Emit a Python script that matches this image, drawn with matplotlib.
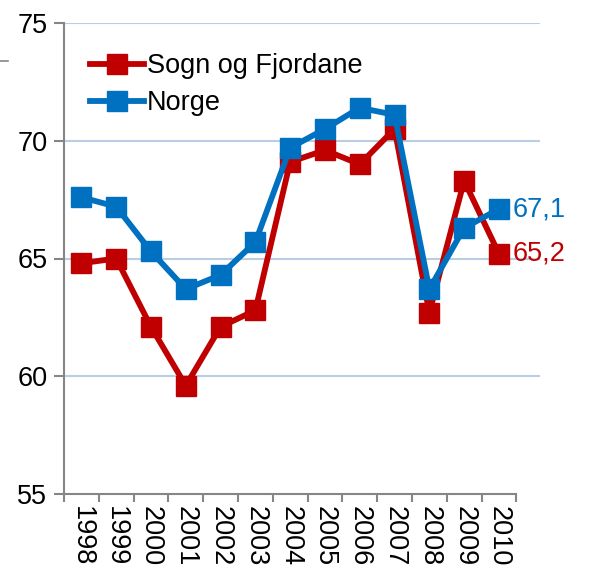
import matplotlib.pyplot as plt
from matplotlib.lines import Line2D
from matplotlib.ticker import FixedLocator

plt.rcParams['font.family'] = ['Liberation Sans', 'DejaVu Sans']

years = ['1998', '1999', '2000', '2001', '2002', '2003', '2004',
         '2005', '2006', '2007', '2008', '2009', '2010']
sogn = [64.8, 65.0, 62.1, 59.6, 62.1, 62.8, 69.1, 69.6, 69.0, 70.5, 62.7, 68.3, 65.2]
norge = [67.6, 67.2, 65.3, 63.7, 64.3, 65.7, 69.7, 70.5, 71.4, 71.1, 63.7, 66.3, 67.1]

red = '#C00000'
blue = '#0070C0'
axis_grey = '#868686'
fs = 19.5

fig = plt.figure(figsize=(5.89, 5.68), dpi=100)
ax = fig.add_axes([64 / 589, 1 - 494 / 568, 476 / 589, 471 / 568])

x = list(range(len(years)))
ax.plot(x, sogn, color=red, lw=4.2, marker='s', ms=14, label='Sogn og Fjordane', zorder=3)
ax.plot(x, norge, color=blue, lw=4.2, marker='s', ms=14, label='Norge', zorder=4)

# value labels on the last point
ax.annotate(f'{norge[-1]:.1f}'.replace('.', ','), (x[-1], norge[-1]), xytext=(10, 0),
            textcoords='offset points', color=blue, fontsize=fs, va='center', ha='left')
ax.annotate(f'{sogn[-1]:.1f}'.replace('.', ','), (x[-1], sogn[-1]), xytext=(10, 0),
            textcoords='offset points', color=red, fontsize=fs, va='center', ha='left')

ax.set_ylim(55, 75)
ax.set_xlim(-0.5, 13.18)
ax.set_yticks([55, 60, 65, 70, 75])
ax.set_yticklabels(['55', '60', '65', '70', '75'], fontsize=fs)
for v in [60, 65, 70, 75]:
    ax.axhline(v, color='#B9CDE5', lw=1.5, zorder=1)

ax.set_xticks(x)
ax.set_xticklabels(years, rotation=-90, fontsize=fs)
ax.xaxis.set_minor_locator(FixedLocator([i - 0.5 for i in range(len(years) + 1)]))
ax.tick_params(axis='x', which='major', length=0, pad=9)
ax.tick_params(axis='x', which='minor', length=6, color=axis_grey, width=1.5)
ax.tick_params(axis='y', length=7, color=axis_grey, width=1.5, pad=5)

for side in ['top', 'right']:
    ax.spines[side].set_visible(False)
for side in ['left', 'bottom']:
    ax.spines[side].set_color(axis_grey)
    ax.spines[side].set_linewidth(1.5)
ax.spines['bottom'].set_bounds(-0.5, 12.5)

ax.legend(loc='upper left', bbox_to_anchor=(0.02, 0.97), frameon=False, fontsize=fs,
          handlelength=2.0, handletextpad=0.1, labelspacing=0.4, borderaxespad=0.2)

fig.add_artist(Line2D([0, 8 / 589], [1 - 61 / 568, 1 - 61 / 568], color=axis_grey, lw=1.2))

fig.savefig('out.png', dpi=100)
